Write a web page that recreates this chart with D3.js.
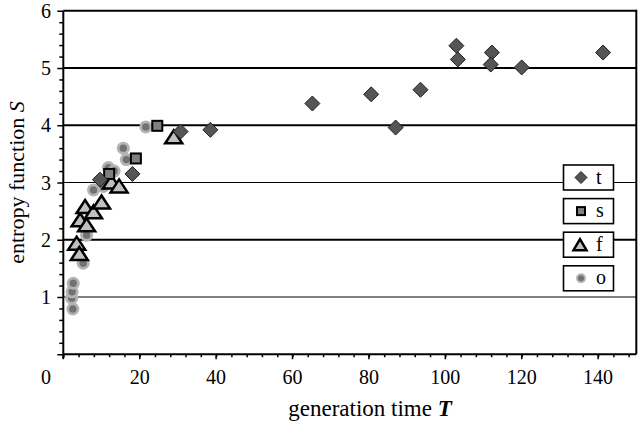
<!DOCTYPE html>
<html><head><meta charset="utf-8">
<script src="https://cdn.jsdelivr.net/npm/d3@7"></script>
<style>body{margin:0;background:#fff}svg{display:block}</style>
</head><body><svg id="c" width="639" height="422"></svg>
<script>
// data: generation time T, entropy S
const tT = [9.6, 18.1, 30.7, 38.5, 65.2, 80.6, 87.0, 93.5, 102.9, 103.3, 112.2, 111.9, 120.0, 141.3];
const tS = [3.05, 3.15, 3.89, 3.92, 4.38, 4.54, 3.96, 4.62, 5.39, 5.15, 5.27, 5.06, 5.01, 5.27];
const sT = [12.0, 19.0, 24.6];
const sS = [3.15, 3.42, 3.99];
const fT = [3.5, 4.2, 4.4, 5.7, 6.1, 7.9, 10.0, 12.6, 14.6, 28.9];
const fS = [1.94, 1.76, 2.35, 2.58, 2.26, 2.49, 2.66, 3.01, 2.94, 3.80];
const oT = [2.5, 2.2, 2.3, 2.6, 5.2, 6.1, 7.9, 10.5, 11.8, 13.3, 15.7, 16.5, 21.6];
const oS = [0.79, 0.98, 1.09, 1.24, 1.59, 2.08, 2.87, 2.93, 3.26, 3.2, 3.6, 3.4, 3.97];
const xTicks = [0, 20, 40, 60, 80, 100, 120, 140];
const yTicks = [1, 2, 3, 4, 5, 6];
const thickGrid = [2, 4, 5, 6];
const legendItems = ["t", "s", "f", "o"];

const FONT = "'Liberation Serif', Tinos, 'Nimbus Roman', 'Noto Serif', FreeSerif, Times, 'DejaVu Serif', serif";
const svg = d3.select("#c");
const x = d3.scaleLinear().domain([0, 150]).range([63.3, 636.3]);
const y = d3.scaleLinear().domain([0, 6]).range([354.25, 10.75]);

function txt(g) { return g.append("text").attr("font-family", FONT).attr("fill", "#000"); }

// gridlines
svg.append("g").selectAll("line").data(yTicks).join("line")
  .attr("x1", x(0)).attr("x2", x(150))
  .attr("y1", d => y(d)).attr("y2", d => y(d))
  .attr("stroke", "#000")
  .attr("stroke-width", d => thickGrid.includes(d) ? 2 : 1);
// right border
svg.append("line").attr("x1", x(150)).attr("x2", x(150)).attr("y1", y(6) - 1).attr("y2", y(0))
  .attr("stroke", "#000").attr("stroke-width", 2);

// y axis
const yAxis = svg.append("g").attr("transform", `translate(${x(0)},0)`)
  .call(d3.axisLeft(y).tickValues(d3.range(0, 6.01, 0.2)).tickSize(4).tickFormat(""));
yAxis.select(".domain").attr("stroke-width", 2).attr("d", `M0,${y(6)}V${y(0) + 4}`);
yAxis.selectAll(".tick line").attr("stroke-width", 1.5)
  .attr("x2", d => Math.abs(d - Math.round(d)) < 1e-6 ? -6 : -4);
yTicks.forEach(d => txt(svg).attr("x", 51).attr("y", y(d) + 7).attr("text-anchor", "end")
  .attr("font-size", 20).text(d));

// x axis
const xAxis = svg.append("g").attr("transform", `translate(0,${y(0)})`)
  .call(d3.axisBottom(x).tickValues(d3.range(0, 151, 4)).tickSize(3).tickFormat(""));
xAxis.select(".domain").attr("stroke-width", 2).attr("d", `M${x(0)},0H${x(150)}`);
xAxis.selectAll(".tick line").attr("stroke-width", 1.5);
xAxis.append("g").selectAll("line").data(xTicks).join("line")
  .attr("x1", d => x(d)).attr("x2", d => x(d)).attr("y1", 0).attr("y2", 5)
  .attr("stroke", "#000").attr("stroke-width", 1.5);
xTicks.filter(d => d > 0).forEach(d => txt(svg).attr("x", x(d)).attr("y", 384)
  .attr("text-anchor", "middle").attr("font-size", 20).text(d));
txt(svg).attr("x", 51).attr("y", 384).attr("text-anchor", "end").attr("font-size", 20).text("0");

// axis titles
const xt = txt(svg).attr("x", 370).attr("y", 416).attr("text-anchor", "middle").attr("font-size", 23);
xt.append("tspan").text("generation time ");
xt.append("tspan").attr("font-style", "italic").attr("font-weight", "bold").text("T");
const yt = txt(svg).attr("transform", `translate(24,${(y(0) + y(6)) / 2}) rotate(-90)`)
  .attr("text-anchor", "middle").attr("font-size", 22);
yt.append("tspan").text("entropy function ");
yt.append("tspan").attr("font-style", "italic").text("S");

// marker drawers
function diamond(g, cx, cy, h) {
  g.append("path").attr("d", `M${cx},${cy - h}L${cx + h},${cy}L${cx},${cy + h}L${cx - h},${cy}Z`)
    .attr("fill", "#555").attr("stroke", "#222").attr("stroke-width", 1);
}
function square(g, cx, cy, h) {
  g.append("rect").attr("x", cx - h).attr("y", cy - h).attr("width", 2 * h).attr("height", 2 * h)
    .attr("fill", "#808080").attr("stroke", "#000").attr("stroke-width", 2);
}
function triangle(g, cx, cy, w, h) {
  g.append("path").attr("d", `M${cx},${cy - h / 2}L${cx + w / 2},${cy + h / 2}L${cx - w / 2},${cy + h / 2}Z`)
    .attr("fill", "#c0c0c0").attr("stroke", "#000").attr("stroke-width", 2.5).attr("stroke-linejoin", "miter");
}
function dot(g, cx, cy, r1, r2) {
  g.append("circle").attr("cx", cx).attr("cy", cy).attr("r", r1).attr("fill", "#b4b4b4");
  g.append("circle").attr("cx", cx).attr("cy", cy).attr("r", r2).attr("fill", "#727272");
}

const pts = svg.append("g");
const og = pts.append("g"); oT.forEach((t, i) => dot(og, x(t), y(oS[i]), 6.5, 3.7));
const fg = pts.append("g"); fT.forEach((t, i) => triangle(fg, x(t), y(fS[i]), 17, 13));
const sg = pts.append("g"); sT.forEach((t, i) => square(sg, x(t), y(sS[i]), 5));
const tg = pts.append("g"); tT.forEach((t, i) => diamond(tg, x(t), y(tS[i]), 7.5));

// legend
const lg = svg.append("g");
legendItems.forEach((k, i) => {
  const top = 165 + i * 33.6;
  const cy = top + 12.5;
  lg.append("rect").attr("x", 563.5).attr("y", top).attr("width", 50).attr("height", 25)
    .attr("fill", "#fff").attr("stroke", "#000").attr("stroke-width", 1.6);
  if (k === "t") diamond(lg, 581, cy, 6);
  if (k === "s") square(lg, 581, cy, 4);
  if (k === "f") triangle(lg, 580, cy, 13, 11);
  if (k === "o") dot(lg, 581, cy, 5, 3);
  txt(lg).attr("x", 596).attr("y", cy + 6).attr("font-size", 20).text(k);
});
</script></body></html>
